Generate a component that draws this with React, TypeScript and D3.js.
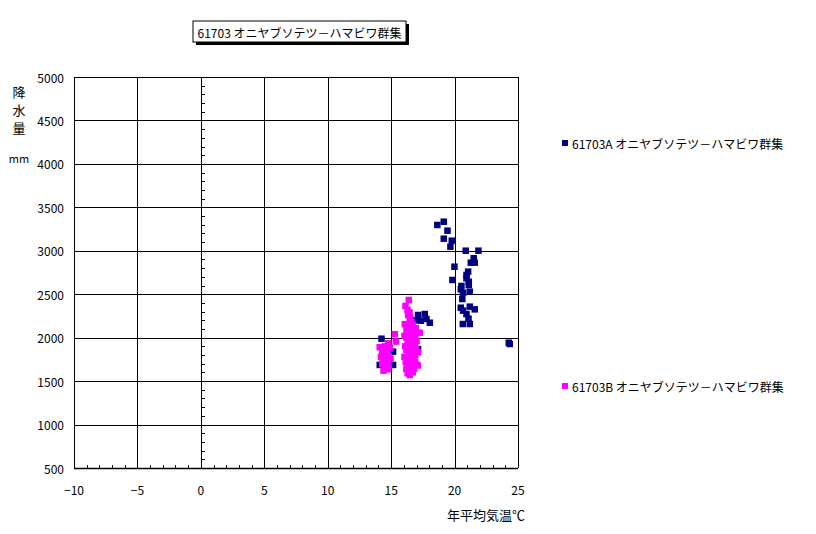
import React from "react";
import * as d3 from "d3";

const title = "61703 オニヤブソテツ－ハマビワ群集";
const seriesNames = ["61703A オニヤブソテツ－ハマビワ群集", "61703B オニヤブソテツ－ハマビワ群集"];
const seriesColors = ["#000080", "#FF00FF"];
const xTicks = [-10, -5, 0, 5, 10, 15, 20, 25];
const yTicks = [500, 1000, 1500, 2000, 2500, 3000, 3500, 4000, 4500, 5000];
const yLabelChars = ["降", "水", "量"];
const yUnit = "mm";
const xTitle = "年平均気温℃";

const seriesA: [number, number][] = [
  [18.64, 3297], [19.15, 3335], [19.44, 3231], [19.15, 3139], [19.78, 3116], [19.67, 3047],
  [20.88, 3001], [21.88, 3001], [21.51, 2914], [21.28, 2863], [21.59, 2863], [19.99, 2817],
  [21.07, 2760], [20.94, 2721], [20.94, 2683], [21.12, 2644], [21.12, 2606], [19.83, 2664],
  [20.54, 2595], [20.49, 2557], [20.67, 2518], [21.2, 2529], [20.61, 2445], [20.49, 2345],
  [20.67, 2311], [21.2, 2357], [21.59, 2326], [20.94, 2272], [21.1, 2218], [20.65, 2157],
  [21.2, 2157], [24.27, 1942], [24.35, 1927], [17.12, 2261], [17.65, 2272], [17.34, 2195],
  [17.78, 2215], [18.05, 2172], [14.24, 1988], [15.15, 1839], [15.15, 1686], [14.1, 1686],
  [17.12, 1867], [16.86, 1800], [16.47, 1666], [16.9, 2200], [16.6, 1750],
];

const seriesB: [number, number][] = [
  [16.39, 2434], [16.13, 2365], [16.29, 2320], [16.34, 2262], [16.5, 2230], [16.47, 2200],
  [16.08, 2155], [16.41, 2146], [16.7, 2150], [16.6, 2110], [16.21, 2088], [16.8, 2090],
  [17.26, 2057], [16.3, 2050], [16.55, 2040], [16.9, 2020], [16.2, 2000], [16.4, 1990],
  [16.75, 1970], [17.0, 1960], [16.3, 1940], [16.6, 1925], [16.85, 1900], [16.45, 1880],
  [16.2, 1860], [17.12, 1831], [16.65, 1850], [16.4, 1820], [16.9, 1800], [16.55, 1780],
  [16.25, 1760], [16.75, 1750], [16.15, 1720], [16.5, 1700], [16.9, 1720], [17.0, 1690],
  [16.3, 1680], [16.6, 1660], [16.2, 1640], [16.8, 1640], [16.4, 1620], [16.7, 1600],
  [16.47, 1570], [16.3, 1590], [17.1, 1680], [16.05, 2020], [16.95, 2110], [16.1, 1900],
  [16.95, 1870], [16.05, 1780], [16.6, 2180], [16.45, 2290],
  [15.29, 2040], [15.37, 1955], [14.76, 1935], [14.1, 1890], [14.5, 1900], [14.9, 1880],
  [14.3, 1850], [14.6, 1830], [14.4, 1800], [14.8, 1790], [14.37, 1743], [14.6, 1720],
  [14.3, 1700], [14.8, 1680], [14.5, 1660], [14.76, 1636], [14.4, 1620], [14.95, 1760],
  [14.2, 1780],
];

const W = 816;
const H = 534;
const left = 74, right = 518, top = 77, bottom = 468;
const font = "'Noto Sans CJK JP', 'DejaVu Sans', sans-serif";

export default function App() {
  const x = d3.scaleLinear().domain([-10, 25]).range([left, right]);
  const y = d3.scaleLinear().domain([500, 5000]).range([bottom, top]);
  const minorX = d3.range(-10, 26, 1);
  const minorY = d3.range(500, 5001, 100);
  const ms = 6.5;
  const series = [seriesA, seriesB];

  return (
    <svg width={W} height={H} style={{ position: "absolute", left: 0, top: 0, background: "#fff" }}
      fontFamily={font}>
      <rect x={0} y={0} width={W} height={H} fill="#fff" />
      {/* title box */}
      <rect x={196} y={24} width={213} height={21} fill="#000" />
      <rect x={193} y={21} width={213} height={21} fill="#fff" stroke="#000" strokeWidth={1} />
      <text x={299.5} y={32} fontSize={12} textAnchor="middle" dominantBaseline="central">{title}</text>

      {/* horizontal gridlines */}
      {yTicks.map((t) => (
        <line key={"h" + t} x1={left} x2={right} y1={Math.round(y(t)) + 0.5} y2={Math.round(y(t)) + 0.5} stroke="#000" strokeWidth={1} />
      ))}
      {/* vertical gridlines */}
      {xTicks.map((t) => (
        <line key={"v" + t} x1={Math.round(x(t)) + 0.5} x2={Math.round(x(t)) + 0.5} y1={top} y2={bottom} stroke="#000" strokeWidth={1} />
      ))}
      {/* minor ticks x axis */}
      {minorX.map((t) => (
        <line key={"mx" + t} x1={Math.round(x(t)) + 0.5} x2={Math.round(x(t)) + 0.5} y1={bottom} y2={bottom - 3} stroke="#000" />
      ))}
      {/* minor ticks y axis at x=0 */}
      {minorY.map((t) => (
        <line key={"my" + t} x1={Math.round(x(0)) + 0.5} x2={Math.round(x(0)) + 4} y1={Math.round(y(t)) + 0.5} y2={Math.round(y(t)) + 0.5} stroke="#000" />
      ))}
      <line x1={left} x2={right} y1={bottom + 0.5} y2={bottom + 0.5} stroke="#000" strokeWidth={1.5} />

      {/* y tick labels */}
      {yTicks.map((t) => (
        <text key={"yl" + t} x={64} y={y(t)} fontSize={12} textAnchor="end" dominantBaseline="central">{t}</text>
      ))}
      {/* x tick labels */}
      {xTicks.map((t) => (
        <text key={"xl" + t} x={x(t)} y={489} fontSize={12} textAnchor="middle" dominantBaseline="central">{t < 0 ? "−" + Math.abs(t) : String(t)}</text>
      ))}

      {/* y axis title */}
      {yLabelChars.map((c, i) => (
        <text key={"yc" + i} x={19} y={91 + i * 18} fontSize={13} textAnchor="middle" dominantBaseline="central">{c}</text>
      ))}
      <text x={19} y={158} fontSize={11} textAnchor="middle" dominantBaseline="central">{yUnit}</text>
      {/* x axis title */}
      <text x={486} y={514} fontSize={13} textAnchor="middle" dominantBaseline="central">{xTitle}</text>

      {/* points */}
      {series.map((s, si) => (
        <g key={"s" + si} fill={seriesColors[si]}>
          {s.map((p, i) => (
            <rect key={i} x={x(p[0]) - ms / 2} y={y(p[1]) - ms / 2} width={ms} height={ms} />
          ))}
        </g>
      ))}

      {/* legend */}
      {seriesNames.map((n, i) => {
        const ly = i === 0 ? 143 : 386;
        return (
          <g key={"lg" + i}>
            <rect x={562} y={ly - 3} width={6} height={6} fill={seriesColors[i]} />
            <text x={572} y={ly} fontSize={12} dominantBaseline="central">{n}</text>
          </g>
        );
      })}
    </svg>
  );
}
